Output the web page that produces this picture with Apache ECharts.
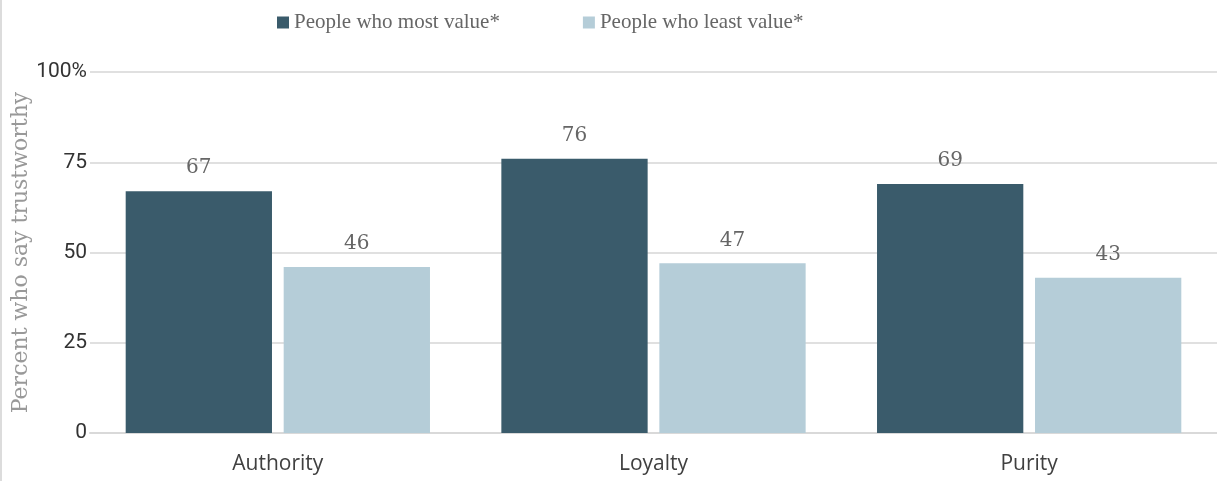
<!DOCTYPE html>
<html>
<head>
<meta charset="utf-8">
<script src="https://cdn.jsdelivr.net/npm/echarts@6/dist/echarts.min.js"></script>
<style>
  html, body { margin: 0; padding: 0; background: #fff; }
  #chart { width: 1217px; height: 481px; }
</style>
</head>
<body>
<div id="chart"></div>
<script>
// data
const categories = ['Authority', 'Loyalty', 'Purity']
const mostValue = [67, 76, 69]
const leastValue = [46, 47, 43]
const seriesNames = ['People who most value*', 'People who least value*']
const yTicks = [0, 25, 50, 75, 100]

const chart = echarts.init(document.getElementById('chart'))

const valueLabel = {
  show: true,
  position: 'top',
  distance: 13,
  color: '#666',
  fontFamily: 'DejaVu Serif',
  fontSize: 20
}

chart.setOption({
  animation: false,
  graphic: [
    {
      type: 'rect',
      shape: { x: 0, y: 0, width: 2, height: 481 },
      style: { fill: '#dcdcdc' }
    }
  ],
  legend: {
    top: 7,
    left: 272,
    itemGap: 83,
    itemWidth: 12,
    itemHeight: 12,
    itemTextGap: 4,
    icon: 'rect',
    textStyle: {
      color: '#666',
      fontFamily: 'Liberation Serif',
      fontSize: 21
    },
    data: seriesNames
  },
  grid: {
    //  上 100% 对齐 y=72，0 对齐 y=433
    top: 72,
    bottom: 48,
    left: 90,
    right: 0,
    outerBoundsMode: 'none'
  },
  xAxis: {
    type: 'category',
    data: categories,
    axisTick: { show: false },
    axisLine: { lineStyle: { color: '#d9d9d9', width: 2 } },
    axisLabel: {
      color: '#404040',
      fontFamily: 'Open Sans',
      fontSize: 21,
      margin: 21
    }
  },
  yAxis: {
    type: 'value',
    min: yTicks[0],
    max: yTicks[yTicks.length - 1],
    interval: 25,
    name: 'Percent who say trustworthy',
    nameLocation: 'middle',
    nameGap: 58,
    nameMoveOverlap: false,
    nameTextStyle: {
      color: '#999',
      fontFamily: 'DejaVu Serif',
      fontSize: 22
    },
    axisLine: { show: false },
    axisTick: { show: false },
    splitLine: { lineStyle: { color: '#e0e0e0', width: 2 } },
    axisLabel: {
      color: '#333',
      fontFamily: 'Roboto',
      fontSize: 21,
      margin: 3,
      formatter: v => (v === 100 ? '100%' : String(v))
    }
  },
  series: [
    {
      name: seriesNames[0],
      type: 'bar',
      data: mostValue,
      barGap: '8%',
      barCategoryGap: '19%',
      itemStyle: { color: '#3a5b6b' },
      label: valueLabel
    },
    {
      name: seriesNames[1],
      type: 'bar',
      data: leastValue,
      itemStyle: { color: '#b5cdd8' },
      label: valueLabel
    }
  ]
})
</script>
</body>
</html>
